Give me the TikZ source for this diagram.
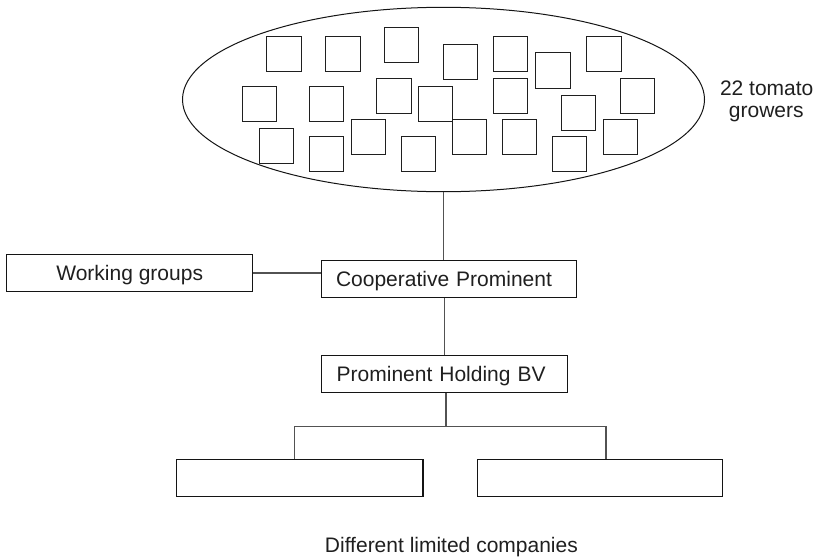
\documentclass[tikz,border=0pt]{standalone}
\usepackage{fontspec}
\setmainfont{Liberation Sans}
\usetikzlibrary{shapes.geometric}
\begin{document}
\begin{tikzpicture}[x=1pt,y=-1pt,
  lbl/.style={font=\fontsize{21}{25}\selectfont, text=black!88},
  box/.style={draw=black!92, line width=1.1pt, lbl, text height=15.1pt, text depth=0pt, inner ysep=0pt},
  grower/.style={draw=black!88, line width=1pt},
  link/.style={draw=black!68, line width=1.5pt}
]
\useasboundingbox (0,0) rectangle (816,557);

% growers ellipse
\node[draw=black!92, line width=1pt, ellipse, minimum width=522pt, minimum height=184.4pt, inner sep=0pt] (ell) at (443.5,99.5) {};
\foreach \i/\x/\y in {1/266.7/36, 2/325.7/36, 3/384.3/27.3, 4/443.3/44, 5/242.3/86,
  6/309/86, 7/376.7/78.3, 8/418/86, 9/259/128.3, 10/309/136, 11/351.3/119.3,
  12/401.3/136, 13/452.3/119.3, 14/493.3/36, 15/535.7/52.7, 16/586.7/36,
  17/493.3/78.3, 18/620.3/78.3, 19/561.3/95, 20/502.3/119.3, 21/552.3/136, 22/603.3/119.3}
  \draw[grower] (\x,\y) rectangle ++(34.3,35.6);

\node[lbl, anchor=base] (t1) at (766.7,95) {22 tomato};
\node[lbl, anchor=base] (t2) at (766.3,117) {growers};

% boxes
\node[box, minimum width=246pt, minimum height=37.4pt] (wg) at (129.7,273) {Working groups};
\node[box, minimum height=37.3pt, text width=226.4pt, align=left, inner xsep=14.3pt] (coop) at (449.2,278.7) {Cooperative Prominent};
\node[box, minimum height=36.6pt, text width=215.6pt, align=left, inner xsep=15pt] (hold) at (444.5,374) {Prominent Holding BV};
\node[box, minimum width=246.3pt, minimum height=37.4pt] (lc) at (299.8,478) {};
\node[box, minimum width=245pt, minimum height=37.2pt] (rc) at (600.2,478) {};

\node[lbl, anchor=base] (diff) at (451.4,552.3) {Different limited companies};

% connectors
\draw[link] (ell.south) -- (ell.south |- coop.north);
\draw[link] (wg.east) -- (wg.east -| coop.west);
\draw[link] (hold.north |- coop.south) -- (hold.north);
\coordinate (bl) at (294.3,426.7);
\coordinate (br) at (605.9,426.7);
\coordinate (bm) at ([xshift=1.5pt]hold.south |- bl);
\draw[link] ([xshift=1.5pt]hold.south) -- (bm);
\draw[link] (bl |- lc.north) -- (bl) -- (br) -- (br |- rc.north);
\end{tikzpicture}
\end{document}
